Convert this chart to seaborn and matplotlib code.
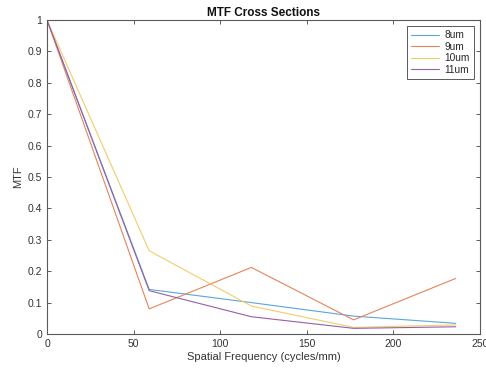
import numpy as np
import pandas as pd
import matplotlib
matplotlib.use("Agg")
import matplotlib.pyplot as plt
import seaborn as sns

# Spatial frequency samples (cycles/mm) and MTF values per pixel pitch
freq = [0, 59, 118, 177, 236]
mtf_8um = [1.0, 0.142, 0.100, 0.057, 0.034]
mtf_9um = [1.0, 0.080, 0.212, 0.045, 0.177]
mtf_10um = [1.0, 0.265, 0.089, 0.021, 0.029]
mtf_11um = [1.0, 0.138, 0.055, 0.018, 0.023]
labels = ["8um", "9um", "10um", "11um"]

series = [mtf_8um, mtf_9um, mtf_10um, mtf_11um]
df = pd.DataFrame({
    "freq": np.tile(freq, len(labels)),
    "mtf": np.concatenate(series),
    "pitch": np.repeat(labels, len(freq)),
})

sns.set_theme(style="white")
plt.rcParams["font.family"] = ["Liberation Sans", "DejaVu Sans"]

palette = ["#5aa6dc", "#e5845a", "#f1cd6a", "#9560a6"]

fig = plt.figure(figsize=(4.86, 3.68), dpi=100)
ax = fig.add_axes([47 / 486, 1 - 334 / 368, (480 - 47) / 486, (334 - 20) / 368])

sns.lineplot(data=df, x="freq", y="mtf", hue="pitch", hue_order=labels,
             palette=palette, linewidth=0.8, ax=ax, estimator=None, sort=False)

ax.set_xlim(0, 250)
ax.set_ylim(0, 1)
ax.set_xticks(np.arange(0, 251, 50))
ax.set_yticks(np.arange(0, 1.01, 0.1))
ax.set_yticklabels(["0", "0.1", "0.2", "0.3", "0.4", "0.5", "0.6", "0.7", "0.8", "0.9", "1"])

axis_col = "#5a5a5a"
for s in ax.spines.values():
    s.set_color(axis_col)
    s.set_linewidth(0.8)
ax.tick_params(direction="in", length=3, width=0.7, colors=axis_col,
               labelsize=7.5, labelcolor="#333333", top=True, right=True,
               bottom=True, left=True)

ax.set_xlabel("Spatial Frequency (cycles/mm)", fontsize=8, color="#333333", labelpad=2)
ax.set_ylabel("MTF", fontsize=8, color="#333333", labelpad=3)
ax.set_title("MTF Cross Sections", fontsize=8.5, fontweight="bold", pad=3, color="#111111")

leg = ax.legend(loc="upper right", fontsize=7.3, frameon=True, fancybox=False,
                borderpad=0.4, handlelength=2.8, handletextpad=0.5,
                labelspacing=0.15, borderaxespad=0.6)
leg.get_frame().set_edgecolor(axis_col)
leg.get_frame().set_linewidth(0.7)
leg.get_frame().set_alpha(1)
for line in leg.get_lines():
    line.set_linewidth(0.8)

fig.savefig("out.png", dpi=100, facecolor="white")
